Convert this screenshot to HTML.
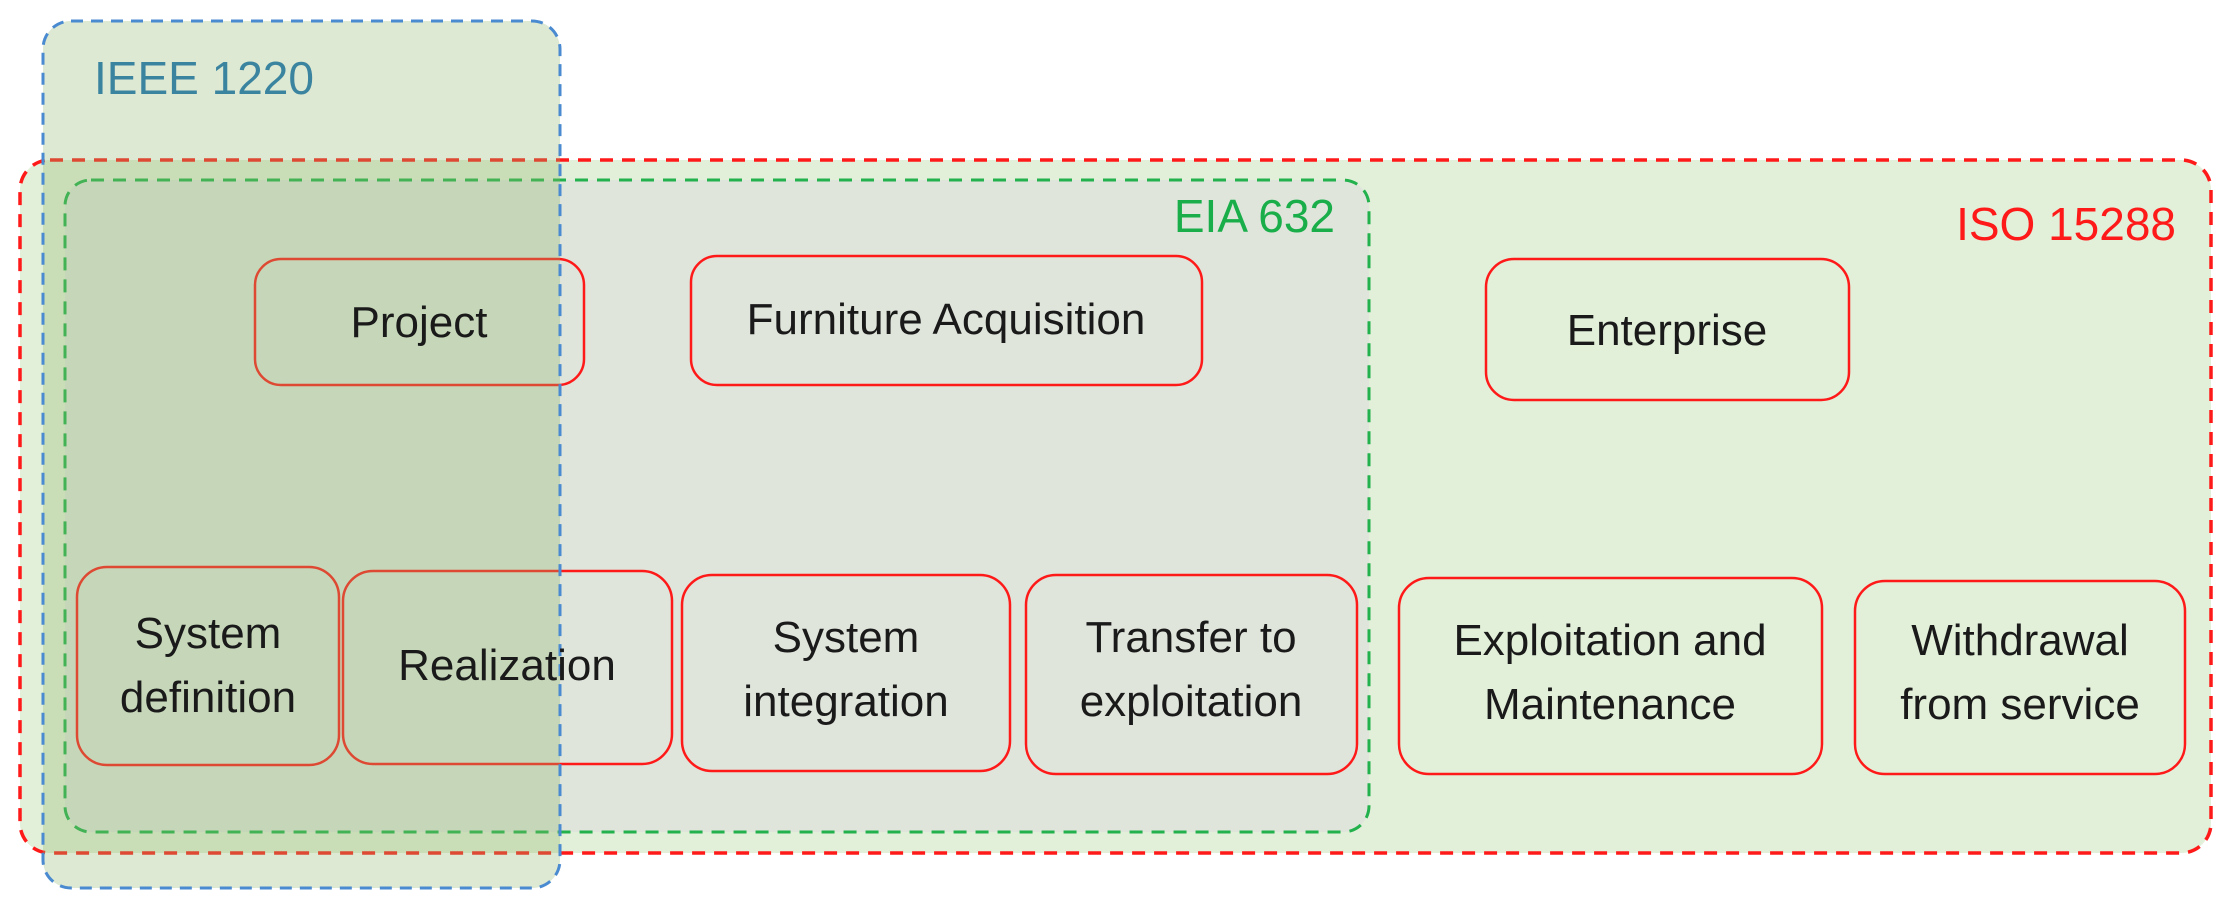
<!DOCTYPE html>
<html><head><meta charset="utf-8"><style>
html,body{margin:0;padding:0;background:#fff}
svg{display:block}
text{font-family:"Liberation Sans",sans-serif}
</style></head><body>
<svg width="2222" height="917" viewBox="0 0 2222 917" xmlns="http://www.w3.org/2000/svg">
<!-- ISO -->
<rect x="20" y="160" width="2191" height="693" rx="30" fill="#e2efd9" stroke="#ff1a1a" stroke-width="3.5" stroke-dasharray="13 9"/>
<!-- EIA -->
<rect x="65" y="180" width="1304" height="652" rx="26" fill="#dfe5db" stroke="#22b14c" stroke-width="3" stroke-dasharray="13 9"/>
<!-- boxes -->
<g fill="none" stroke="#ff1a1a" stroke-width="2.5">
<rect x="255" y="259" width="329" height="126" rx="26"/>
<rect x="691" y="256" width="511" height="129" rx="26"/>
<rect x="1486" y="259" width="363" height="141" rx="28"/>
<rect x="77" y="567" width="262" height="198" rx="30"/>
<rect x="343" y="571" width="329" height="193" rx="30"/>
<rect x="682" y="575" width="328" height="196" rx="30"/>
<rect x="1026" y="575" width="331" height="199" rx="30"/>
<rect x="1399" y="578" width="423" height="196" rx="30"/>
<rect x="1855" y="581" width="330" height="193" rx="30"/>
</g>
<!-- IEEE -->
<rect x="43" y="21" width="517" height="867" rx="28" fill="rgba(142,182,105,0.3)" stroke="#4a8ad0" stroke-width="3" stroke-dasharray="12 8"/>
<!-- labels -->
<text x="94" y="94" font-size="46" fill="#3b84a0">IEEE 1220</text>
<text x="1335" y="232" font-size="46" fill="#1aae4a" text-anchor="end">EIA 632</text>
<text x="2176" y="240" font-size="46" fill="#ff1a1a" text-anchor="end">ISO 15288</text>
<g font-size="44" fill="#1a1a1a" text-anchor="middle">
<text x="419" y="337">Project</text>
<text x="946" y="334">Furniture Acquisition</text>
<text x="1667" y="345">Enterprise</text>
<text x="208" y="648">System</text>
<text x="208" y="712">definition</text>
<text x="507" y="680">Realization</text>
<text x="846" y="652">System</text>
<text x="846" y="716">integration</text>
<text x="1191" y="652">Transfer to</text>
<text x="1191" y="716">exploitation</text>
<text x="1610" y="655">Exploitation and</text>
<text x="1610" y="719">Maintenance</text>
<text x="2020" y="655">Withdrawal</text>
<text x="2020" y="719">from service</text>
</g>
</svg>
</body></html>
